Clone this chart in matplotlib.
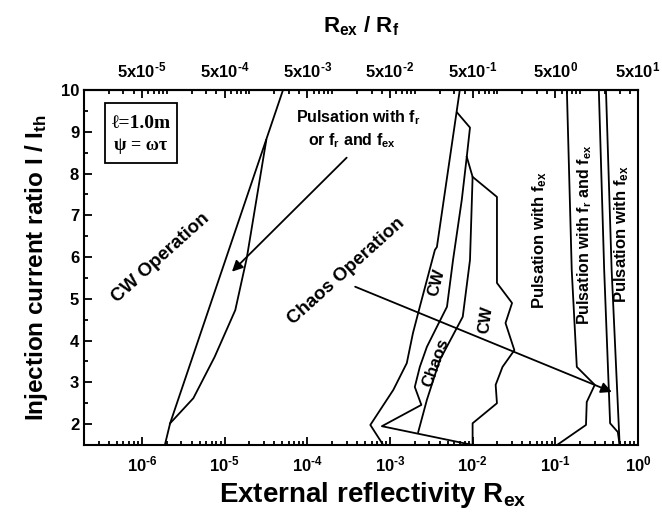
import matplotlib
matplotlib.use("Agg")
import matplotlib.pyplot as plt
from matplotlib.patches import Rectangle
from matplotlib.ticker import LogLocator, NullFormatter, MultipleLocator

plt.rcParams['font.family'] = ['Liberation Sans', 'DejaVu Sans']
plt.rcParams['font.weight'] = 'bold'
plt.rcParams['mathtext.fontset'] = 'custom'
plt.rcParams['mathtext.rm'] = 'Liberation Sans:bold'
plt.rcParams['mathtext.bf'] = 'Liberation Sans:bold'
plt.rcParams['mathtext.it'] = 'Liberation Sans:bold'

# external reflectivity / injection current ratio along each boundary
cw_left_R = [1.9e-6, 2.2e-6, 5.1e-5]
cw_left_I = [1.5, 2.02, 10.0]
cw_right_R = [2.2e-6, 4.2e-6, 7.6e-6, 1.35e-5, 1.86e-5, 3.2e-5]
cw_right_I = [2.02, 2.62, 3.61, 4.73, 5.98, 8.8]

chaos_left_R = [7.0e-3, 3.7e-3, 3.5e-3, 2.3e-3, 1.9e-3, 1.6e-3, 1.1e-3, 5.8e-4, 8.3e-4]
chaos_left_I = [10.0, 6.24, 6.17, 4.81, 4.18, 3.46, 2.82, 1.98, 1.5]
cw_inner_R = [6.5e-3, 9.3e-3, 8.5e-3, 7.4e-3, 5.8e-3, 4.9e-3, 3.7e-3, 2.8e-3, 2.3e-3, 2.0e-3, 2.4e-3, 8.0e-4, 1.0e-2]
cw_inner_I = [9.46, 9.10, 8.40, 7.37, 5.93, 4.81, 4.33, 3.85, 3.37, 2.89, 2.46, 1.95, 1.5]
chaos_inner_R = [8.5e-3, 1.0e-2, 9.3e-3, 7.6e-3, 4.0e-3, 2.8e-3, 2.2e-3]
chaos_inner_I = [8.40, 7.92, 5.93, 4.57, 3.53, 2.58, 1.81]
cw_outer_R = [1.0e-2, 1.97e-2, 1.97e-2, 1.97e-2, 3.0e-2, 2.5e-2, 3.2e-2, 2.3e-2, 1.9e-2, 1.97e-2, 1.0e-2, 1.0e-2]
cw_outer_I = [7.92, 7.44, 5.69, 5.38, 4.90, 4.42, 3.77, 3.37, 2.94, 2.50, 2.02, 1.5]

pulse_a_R = [0.138, 0.158, 0.182, 0.30, 0.24, 0.235, 0.105]
pulse_a_I = [10.0, 5.69, 3.37, 2.94, 2.53, 1.98, 1.5]
pulse_b_R = [0.336, 0.39, 0.46, 0.57, 0.60]
pulse_b_I = [10.0, 5.69, 2.02, 1.81, 1.5]
pulse_c_R = [0.41, 0.48, 0.60]
pulse_c_I = [10.0, 5.69, 1.5]

boundaries = [
    (cw_left_R, cw_left_I), (cw_right_R, cw_right_I),
    (chaos_left_R, chaos_left_I), (cw_inner_R, cw_inner_I),
    (chaos_inner_R, chaos_inner_I), (cw_outer_R, cw_outer_I),
    (pulse_a_R, pulse_a_I), (pulse_b_R, pulse_b_I), (pulse_c_R, pulse_c_I),
]

H = '\u2010'  # short hyphen for the exponents
bottom_ticks = [1e-6, 1e-5, 1e-4, 1e-3, 1e-2, 1e-1, 1e0]
bottom_labels = ['10$^{%s6}$' % H, '10$^{%s5}$' % H, '10$^{%s4}$' % H, '10$^{%s3}$' % H,
                 '10$^{%s2}$' % H, '10$^{%s1}$' % H, '10$^{0}$']
top_ticks = [5e-5, 5e-4, 5e-3, 5e-2, 5e-1, 5e0, 5e1]
top_labels = ['5x10$^{%s5}$' % H, '5x10$^{%s4}$' % H, '5x10$^{%s3}$' % H, '5x10$^{%s2}$' % H,
              '5x10$^{%s1}$' % H, '5x10$^{0}$', '5x10$^{1}$']
R_f = 0.02

fig = plt.figure(figsize=(6.62, 5.17), dpi=100)
ax = fig.add_axes([84 / 662, 1 - 445 / 517, 554 / 662, 355 / 517])

for R, I in boundaries:
    ax.plot(R, I, color='black', lw=1.3)

ax.set_xscale('log')
ax.set_xlim(2e-7, 1.0)
ax.set_ylim(1.5, 10)

ax.set_xticks(bottom_ticks)
ax.set_xticklabels(bottom_labels)
ax.xaxis.set_minor_locator(LogLocator(base=10, subs=range(2, 10), numticks=20))
ax.xaxis.set_minor_formatter(NullFormatter())
ax.yaxis.set_major_locator(MultipleLocator(1))
ax.yaxis.set_minor_locator(MultipleLocator(0.5))
ax.tick_params(which='both', direction='in', labelsize=12, width=1.3)
ax.tick_params(which='major', length=6)
ax.tick_params(which='minor', length=3)
ax.tick_params(axis='x', pad=7)
for s in ax.spines.values():
    s.set_linewidth(1.5)

top = ax.secondary_xaxis('top', functions=(lambda x: x / R_f, lambda x: x * R_f))
top.set_xscale('log')
top.set_xticks(top_ticks)
top.set_xticklabels(top_labels)
top.xaxis.set_minor_locator(LogLocator(base=10, subs=range(1, 10), numticks=20))
top.xaxis.set_minor_formatter(NullFormatter())
top.tick_params(which='both', direction='in', labelsize=12, width=1.3, pad=7)
top.tick_params(which='major', length=6)
top.tick_params(which='minor', length=3)
top.spines['top'].set_linewidth(1.5)
top.set_xlabel('R$_{\\mathrm{ex}}$ / R$_{\\mathrm{f}}$', fontsize=16, fontweight='bold', labelpad=20)

ax.set_xlabel('External reflectivity R$_{\\mathrm{ex}}$', fontsize=20, fontweight='bold', labelpad=6)
ax.xaxis.set_label_coords(0.522, -0.1)
ax.set_ylabel('Injection current ratio I / I$_{\\mathrm{th}}$', fontsize=17.5, fontweight='bold', labelpad=8)

# parameter box
ax.add_patch(Rectangle((0.038, 0.794), 0.13, 0.169, transform=ax.transAxes,
                       fill=False, lw=1.3, color='black'))
ax.text(0.103, 0.905, '\u2113=1.0m', transform=ax.transAxes, ha='center', va='center',
        fontsize=14, fontweight='bold', family=['Liberation Serif', 'DejaVu Serif'])
ax.text(0.103, 0.843, '\u03c8 = \u03c9\u03c4', transform=ax.transAxes, ha='center', va='center',
        fontsize=13, fontweight='bold', family=['Liberation Serif', 'DejaVu Serif'])

# region labels
ax.text(4.2e-4, 9.34, 'Pulsation with f$_{\\mathrm{r}}$', ha='center', va='center', fontsize=11.5)
ax.text(3.5e-4, 8.79, 'or f$_{\\mathrm{r}}$ and f$_{\\mathrm{ex}}$', ha='center', va='center', fontsize=11.5)
ax.text(1.7e-6, 5.98, 'CW Operation', rotation=42, ha='center', va='center', fontsize=13.5)
ax.text(3.0e-4, 5.65, 'Chaos Operation', rotation=42, ha='center', va='center', fontsize=13.5)
ax.text(3.7e-3, 5.38, 'CW', rotation=75, ha='center', va='center', fontsize=12)
ax.text(3.6e-3, 3.46, 'Chaos', rotation=70, ha='center', va='center', fontsize=12)
ax.text(1.45e-2, 4.49, 'CW', rotation=82, ha='center', va='center', fontsize=12)
ax.text(0.065, 6.41, 'Pulsation with f$_{\\mathrm{ex}}$', rotation=90, ha='center', va='center', fontsize=12)
ax.text(0.228, 6.53, 'Pulsation with f$_{\\mathrm{r}}$ and f$_{\\mathrm{ex}}$', rotation=90,
        ha='center', va='center', fontsize=11.5)
ax.text(0.64, 6.56, 'Pulsation with f$_{\\mathrm{ex}}$', rotation=90, ha='center', va='center', fontsize=12)

arrow = dict(arrowstyle='-|>', color='black', lw=1.3, mutation_scale=16, shrinkA=0, shrinkB=0)
ax.annotate('', xy=(1.23e-5, 5.65), xytext=(3.0e-4, 8.38), arrowprops=arrow)
ax.annotate('', xy=(0.483, 2.77), xytext=(3.8e-4, 5.29), arrowprops=arrow)

fig.savefig('out.png', dpi=100)
